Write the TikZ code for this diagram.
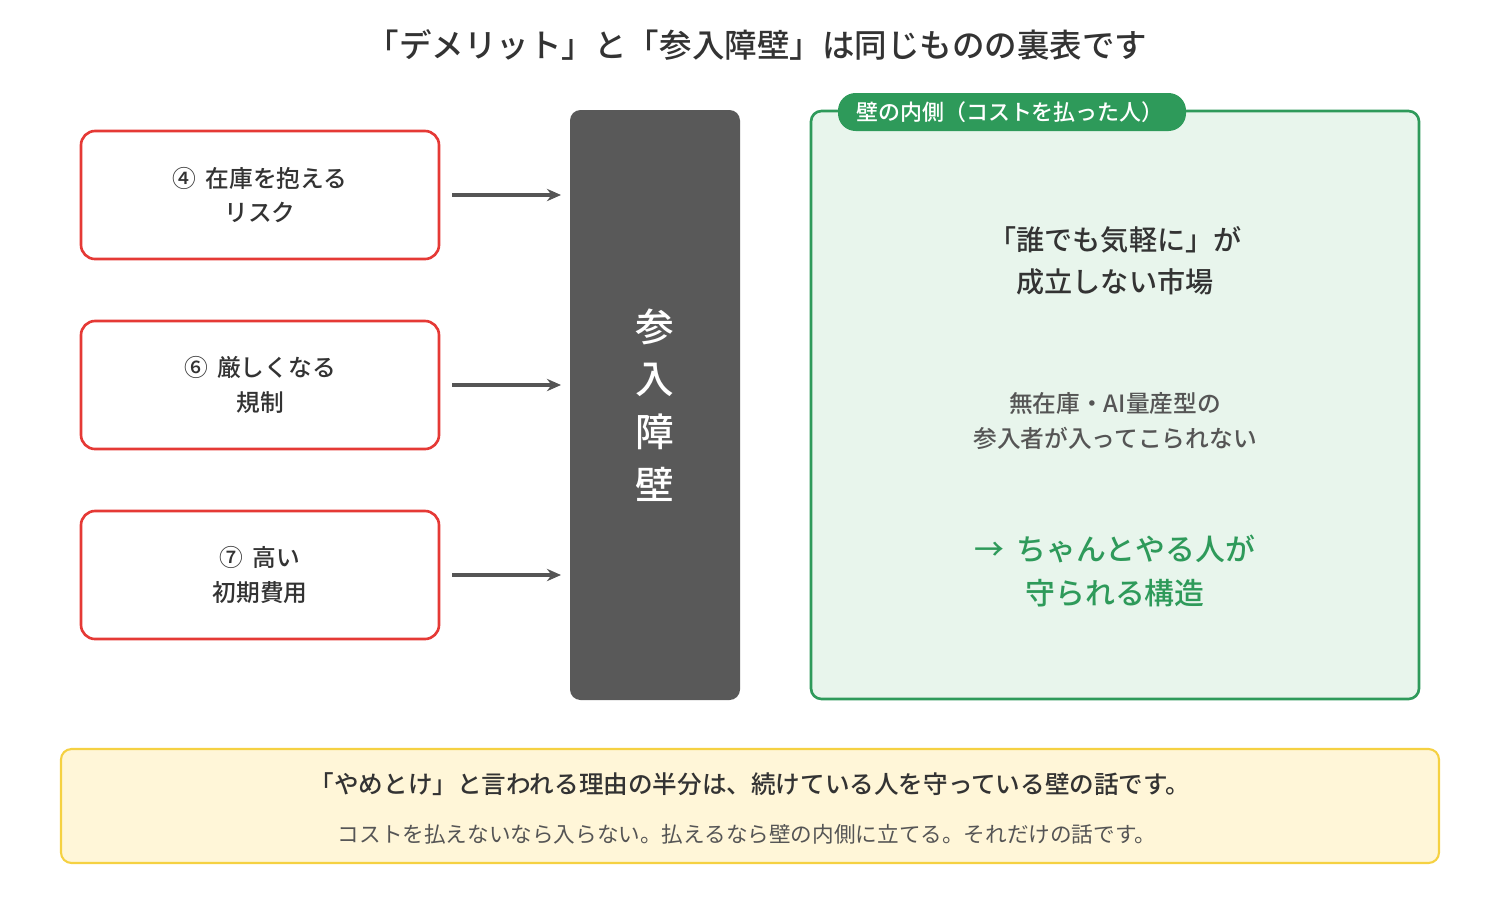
\documentclass[tikz,border=0pt]{standalone}
\usepackage{fontspec}
\setmainfont{Noto Sans CJK JP}[BoldFont={Noto Sans CJK JP Medium}]
\usetikzlibrary{arrows.meta}
\definecolor{txt}{HTML}{333333}
\definecolor{sub}{HTML}{555555}
\definecolor{riskred}{HTML}{E53935}
\definecolor{wallgray}{HTML}{595959}
\definecolor{ingreen}{HTML}{2E9A5A}
\definecolor{inbg}{HTML}{E8F5EC}
\definecolor{notebg}{HTML}{FFF6D8}
\definecolor{noteline}{HTML}{F5D142}
\tikzset{
  risk/.style={draw=riskred, line width=1.5pt, rounded corners=8pt, fill=white},
  risktext/.style={text=txt, font=\fontsize{13.5}{19.5}\selectfont\bfseries, align=center},
  push/.style={draw=sub, line width=2pt, -{Stealth[length=8pt,width=7pt]}},
}
\begin{document}
\begin{tikzpicture}[x=0.02cm, y=-0.02cm]
\useasboundingbox (0,0) rectangle (1500,900);
% title
\node[text=txt, font=\fontsize{18.5}{22}\selectfont\bfseries] (title) at (757,45) {「デメリット」と「参入障壁」は同じものの裏表です};
% risks
\draw[risk] (81,131) rectangle (439,259);
\draw[risk] (81,321) rectangle (439,449);
\draw[risk] (81,511) rectangle (439,639);
\node[risktext] (r4) at (260,195) {④\, 在庫を抱える\\リスク};
\node[risktext] (r6) at (260,385) {⑥\, 厳しくなる\\規制};
\node[risktext] (r7) at (260,575) {⑦\, 高い\\初期費用};
% wall
\draw[fill=wallgray, draw=none, rounded corners=6pt] (570,110) rectangle (740,700);
\node[text=white, font=\fontsize{22}{30}\selectfont\bfseries, align=center] (wall) at (655,405) {参\\入\\障\\壁};
\coordinate (w4) at (561,195);
\coordinate (w6) at (561,385);
\coordinate (w7) at (561,575);
\coordinate (s4) at (452,195);
\coordinate (s6) at (452,385);
\coordinate (s7) at (452,575);
\draw[push] (s4) -- (w4);
\draw[push] (s6) -- (w6);
\draw[push] (s7) -- (w7);
% inside
\draw[fill=inbg, draw=ingreen, line width=1.5pt, rounded corners=6pt] (811,111) rectangle (1419,699);
\draw[fill=ingreen, draw=none, rounded corners=10pt] (838,93) rectangle (1186,131);
\node[text=white, font=\fontsize{12.5}{14}\selectfont\bfseries] (tab) at (1010,112) {壁の内側（コストを払った人）};
\node[text=txt, font=\fontsize{16}{24}\selectfont\bfseries, align=center] (market) at (1115,261) {「誰でも気軽に」が\\成立しない市場};
\node[text=sub, font=\fontsize{13.5}{20}\selectfont\bfseries, align=center] (entrant) at (1115,421) {無在庫・AI量産型の\\参入者が入ってこられない};
\node[text=ingreen, font=\fontsize{17}{24.5}\selectfont\bfseries, align=center] (protect) at (1115,571) {→\, ちゃんとやる人が\\守られる構造};
% note
\draw[fill=notebg, draw=noteline, line width=1.2pt, rounded corners=6pt] (61,749) rectangle (1439,863);
\node[text=txt, font=\fontsize{14}{16}\selectfont\bfseries] (note1) at (750,784) {「やめとけ」と言われる理由の半分は、続けている人を守っている壁の話です。};
\node[text=sub, font=\fontsize{12.3}{14}\selectfont] (note2) at (747,834) {コストを払えないなら入らない。払えるなら壁の内側に立てる。それだけの話です。};
\end{tikzpicture}
\end{document}
